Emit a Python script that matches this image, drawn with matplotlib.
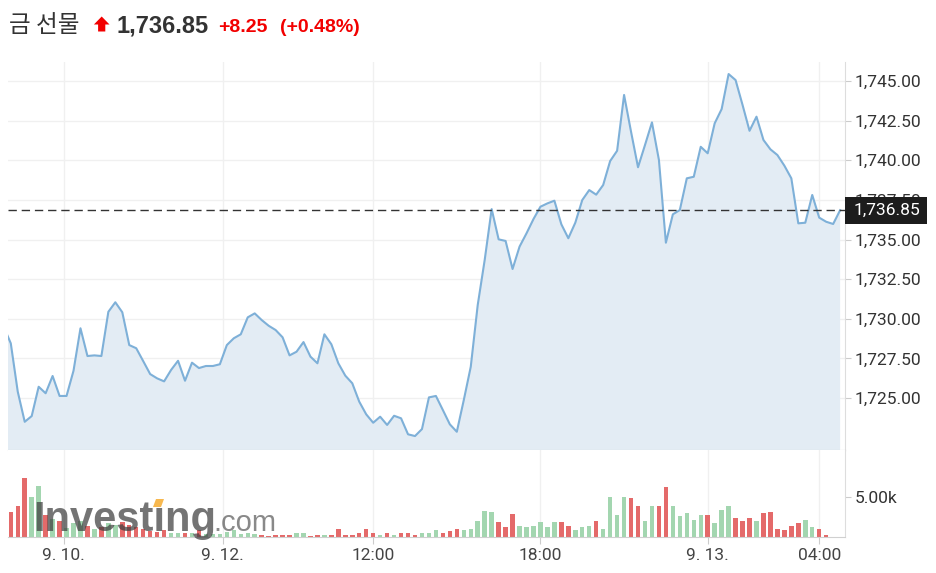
import matplotlib.pyplot as plt
import numpy as np
from matplotlib.ticker import FuncFormatter
from matplotlib.patches import Polygon, Rectangle

title = "금 선물"
last_price = 1736.85
change = "+8.25"
change_pct = "(+0.48%)"

# closes per 15-minute bar; the first value sits just left of the visible range
prices = [
    1729.48, 1728.45, 1725.40, 1723.50, 1723.86, 1725.71, 1725.30, 1726.39, 1725.13, 1725.13,
    1726.72, 1729.40, 1727.65, 1727.69, 1727.65, 1730.44, 1731.04, 1730.41, 1728.34, 1728.14,
    1727.33, 1726.51, 1726.24, 1726.05, 1726.77, 1727.35, 1726.09, 1727.23, 1726.89, 1727.02,
    1727.02, 1727.13, 1728.34, 1728.77, 1729.02, 1730.09, 1730.34, 1729.92, 1729.56, 1729.29,
    1728.83, 1727.69, 1727.92, 1728.53, 1727.61, 1727.19, 1729.02, 1728.39, 1727.19, 1726.41,
    1725.93, 1724.77, 1723.97, 1723.44, 1723.82, 1723.30, 1723.88, 1723.72, 1722.71, 1722.60,
    1723.04, 1725.04, 1725.13, 1724.24, 1723.34, 1722.87, 1724.87, 1726.97, 1730.87, 1733.71,
    1736.92, 1735.01, 1734.91, 1733.14, 1734.55, 1735.39, 1736.29, 1737.07, 1737.28, 1737.45,
    1735.96, 1735.08, 1736.06, 1737.49, 1738.12, 1737.83, 1738.44, 1739.95, 1740.60, 1744.12,
    1741.80, 1739.56, 1740.96, 1742.39, 1740.02, 1734.80, 1736.59, 1736.86, 1738.86, 1738.96,
    1740.85, 1740.44, 1742.33, 1743.23, 1745.44, 1745.06, 1743.49, 1741.86, 1742.75, 1741.28,
    1740.69, 1740.33, 1739.66, 1738.86, 1736.02, 1736.06, 1737.81, 1736.38, 1736.12, 1735.98,
    1736.85,
]

volumes = [
    3180, 3940, 7380, 5090, 6450, 2800, 2290, 2040, 1140, 1780,
    2040, 1440, 1020, 1270, 1780, 1530, 1870, 1530, 1270, 1020,
    725, 640, 850, 510, 510, 510, 510, 850, 380, 380,
    380, 640, 890, 380, 510, 380, 255, 130, 190, 255,
    255, 510, 510, 130, 290, 290, 290, 1060, 290, 290,
    510, 1060, 510, 290, 510, 290, 510, 510, 290, 510,
    510, 890, 510, 725, 1060, 890, 1060, 2040, 3310, 3180,
    1870, 1270, 2840, 1440, 1270, 1440, 1870, 1270, 1870, 1870,
    1440, 890, 1270, 1440, 2040, 1060, 5090, 2800, 5090, 4870,
    3940, 2040, 3940, 3940, 6230, 3940, 2580, 2960, 2200, 2800,
    2800, 1820, 3350, 3940, 2420, 2040, 2420, 2040, 2960, 3180,
    1060, 890, 1440, 1820, 2200, 1270, 1060, 290,
]

tick_pos = [7.6, 30.4, 52, 76, 100, 116]
tick_labels = ["9. 10.", "9. 12.", "12:00", "18:00", "9. 13.", "04:00"]
price_ticks = [1725, 1727.5, 1730, 1732.5, 1735, 1737.5, 1740, 1742.5, 1745]
vol_ticks = [5000]

plt.rcParams['font.family'] = ['Roboto', 'DejaVu Sans']

W, H = 936, 573
fig = plt.figure(figsize=(W / 100, H / 100), dpi=100)

def px(x, y):
    return x / W, 1 - y / H

ax = fig.add_axes([8 / W, 1 - 450 / H, 837 / W, 388 / H])
axv = fig.add_axes([8 / W, 1 - 537 / H, 837 / W, 87 / H], sharex=ax)

px_x = np.arange(-1, len(prices) - 1)
vx = np.arange(len(volumes))

# price panel
ax.fill_between(px_x, prices, 1700, color='#e3ecf4', zorder=1, lw=0)
ax.plot(px_x, prices, color='#7eb0d8', lw=1.5, zorder=3)
ax.axhline(last_price, color='#333333', lw=1, dashes=(6, 3.5), zorder=4)

ax.set_xlim(-0.4, 119.7)
ax.set_ylim(1721.72, 1746.2)
ax.set_yticks(price_ticks)
ax.yaxis.set_major_formatter(FuncFormatter(lambda v, p: f"{v:,.2f}"))
ax.yaxis.tick_right()
ax.tick_params(axis='y', length=4, color='#cccccc', labelsize=12.5, labelcolor='#333333', pad=3)
ax.tick_params(axis='x', length=0, labelbottom=False)
ax.grid(True, color='#f0f0f0', lw=1)
ax.set_axisbelow(True)
for s in ['top', 'left']:
    ax.spines[s].set_visible(False)
ax.spines['right'].set_color('#dddddd')
ax.spines['bottom'].set_color('#c8c8c8')

# current price label
tr = ax.get_yaxis_transform()
ax.add_patch(Rectangle((1.0, last_price - 0.85), 82 / 837, 1.70, transform=tr,
                       facecolor='#1c1c1c', edgecolor='none', clip_on=False, zorder=6))
ax.text(1 + 9 / 837, last_price, f"{last_price:,.2f}", transform=tr, color='white',
        fontsize=12.5, va='center', ha='left', zorder=7, clip_on=False)

# volume panel
up = [prices[i + 1] >= prices[i] for i in range(len(volumes))]
bar_colors = ['#a3d6b0' if u else '#e46a6a' for u in up]
axv.bar(vx, volumes, width=0.64, color=bar_colors, zorder=2)
axv.set_ylim(0, 10940)
axv.set_yticks(vol_ticks)
axv.yaxis.set_major_formatter(FuncFormatter(lambda v, p: f"{v / 1000:.2f}k"))
axv.yaxis.tick_right()
axv.tick_params(axis='y', length=4, color='#cccccc', labelsize=12.5, labelcolor='#333333', pad=3)
axv.set_xticks(tick_pos, tick_labels)
axv.tick_params(axis='x', length=5, color='#cccccc', labelsize=12.5, labelcolor='#444444', pad=3)
axv.grid(True, axis='x', color='#f0f0f0', lw=1)
axv.set_axisbelow(True)
for s in ['top', 'left']:
    axv.spines[s].set_visible(False)
axv.spines['right'].set_color('#dddddd')
axv.spines['bottom'].set_color('#d0d0d0')

# header
fig.text(*px(9, 32.5), title, family=['Noto Sans CJK KR', 'DejaVu Sans'], fontsize=17,
         color='#333333', va='baseline')
arrow = [(101.7, 16.5), (109.5, 24.5), (105.3, 24.5), (105.3, 31.5),
         (98.1, 31.5), (98.1, 24.5), (93.9, 24.5)]
fig.patches.append(Polygon([px(a, b) for a, b in arrow], closed=True, transform=fig.transFigure,
                           facecolor='#f20000', edgecolor='none'))
fig.text(*px(117, 32.5), f"{last_price:,.2f}", family='Liberation Sans', weight='bold',
         fontsize=17, color='#333333', va='baseline')
fig.text(*px(218, 32.5), change, family='Liberation Sans', weight='bold',
         fontsize=14, color='#f20000', va='baseline')
fig.text(*px(280, 32.5), change_pct, family='Liberation Sans', weight='bold',
         fontsize=14, color='#f20000', va='baseline')

# watermark
fig.text(*px(33, 531), "Investıng", family='Liberation Sans', weight='bold', fontsize=30,
         color='#3f3f3f', alpha=0.72, va='baseline')
fig.text(*px(213, 531), ".com", family='Liberation Sans', fontsize=21,
         color='#4a4a4a', alpha=0.65, va='baseline')
dot = [(156, 499), (164, 499), (161, 507), (153, 507)]
fig.patches.append(Polygon([px(a, b) for a, b in dot], closed=True, transform=fig.transFigure,
                           facecolor='#f6a623', edgecolor='none', alpha=0.8))

fig.savefig('out.png', dpi=100)
